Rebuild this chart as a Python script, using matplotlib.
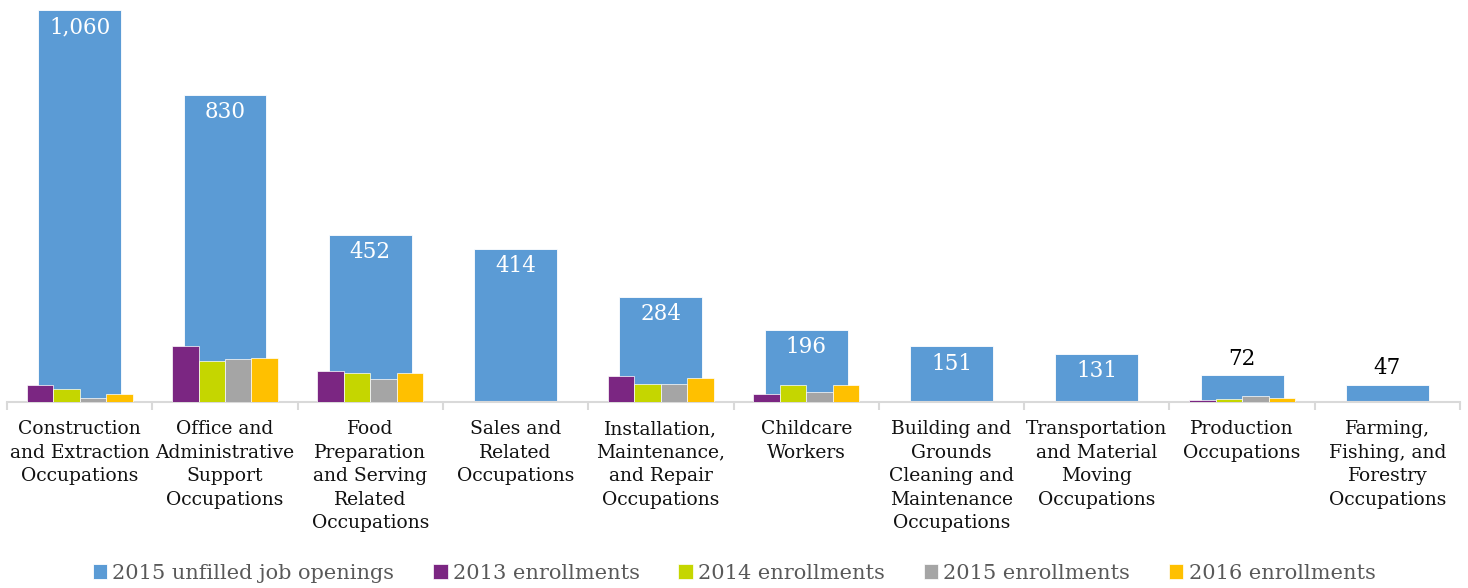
import matplotlib.pyplot as plt
import numpy as np

categories = [
    "Construction\nand Extraction\nOccupations",
    "Office and\nAdministrative\nSupport\nOccupations",
    "Food\nPreparation\nand Serving\nRelated\nOccupations",
    "Sales and\nRelated\nOccupations",
    "Installation,\nMaintenance,\nand Repair\nOccupations",
    "Childcare\nWorkers",
    "Building and\nGrounds\nCleaning and\nMaintenance\nOccupations",
    "Transportation\nand Material\nMoving\nOccupations",
    "Production\nOccupations",
    "Farming,\nFishing, and\nForestry\nOccupations",
]
unfilled_2015 = [1060, 830, 452, 414, 284, 196, 151, 131, 72, 47]
enroll_2013 = [47, 152, 85, 0, 70, 21, 0, 0, 6, 0]
enroll_2014 = [36, 112, 78, 0, 50, 45, 0, 0, 8, 0]
enroll_2015 = [12, 117, 63, 0, 48, 28, 0, 0, 15, 0]
enroll_2016 = [22, 120, 78, 0, 66, 45, 0, 0, 10, 0]

plt.rcParams['font.family'] = ['DejaVu Serif']

fig = plt.figure(figsize=(14.68, 5.88), dpi=100)
ax = fig.add_axes([0.0048, 0.3163, 0.9898, 0.6837])

x = np.arange(len(categories))
ax.bar(x, unfilled_2015, width=0.57, color='#5B9BD5', edgecolor='white',
       linewidth=0.6, label='2015 unfilled job openings', zorder=2)

series = [
    (enroll_2013, '#7B2682', '2013 enrollments'),
    (enroll_2014, '#C5D600', '2014 enrollments'),
    (enroll_2015, '#A5A5A5', '2015 enrollments'),
    (enroll_2016, '#FFC000', '2016 enrollments'),
]
w = 0.182
for i, (vals, col, lab) in enumerate(series):
    ax.bar(x + (i - 1.5) * w, vals, width=w, color=col, edgecolor='white',
           linewidth=0.5, label=lab, zorder=3)

# value labels on the blue bars
for xi, v in zip(x, unfilled_2015):
    txt = f"{v:,}"
    if v > 100:
        ax.annotate(txt, (xi, v), xytext=(0, -12.5), textcoords='offset points',
                    ha='center', va='center', color='white', fontsize=15.5, zorder=4)
    else:
        ax.annotate(txt, (xi, v), xytext=(0, 4), textcoords='offset points',
                    ha='center', va='bottom', color='black', fontsize=15.5, zorder=4)

ax.set_xlim(-0.5, len(categories) - 0.5)
ax.set_ylim(0, 1087)

for s in ['top', 'right', 'left']:
    ax.spines[s].set_visible(False)
ax.spines['bottom'].set_color('#D9D9D9')
ax.spines['bottom'].set_linewidth(1.5)
ax.set_yticks([])

ax.set_xticks(x)
ax.set_xticklabels(categories, fontsize=13.5, color='#111111', linespacing=1.4)
ax.tick_params(axis='x', which='major', length=0, pad=13)
ax.set_xticks(np.arange(-0.5, len(categories)), minor=True)
ax.tick_params(axis='x', which='minor', length=6, color='#D9D9D9', width=1.5)

leg = fig.legend(loc='center', bbox_to_anchor=(0.5, 0.025), ncol=5, frameon=False,
                 fontsize=15, handlelength=0.7, handleheight=0.7,
                 handletextpad=0.25, columnspacing=1.85)
for t in leg.get_texts():
    t.set_color('#595959')

fig.savefig('out.png', dpi=100)
